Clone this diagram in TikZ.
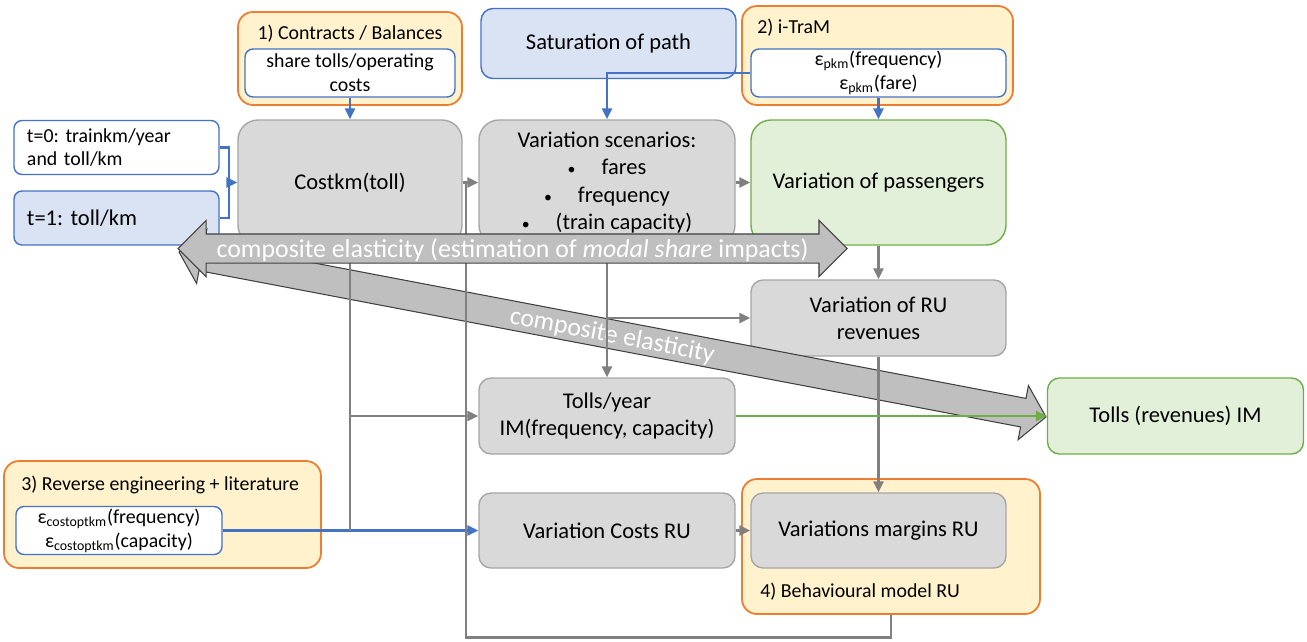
\documentclass[tikz,border=0pt]{standalone}
\usepackage{fontspec}
\setmainfont{Carlito}
\usepackage{tikz}
\usetikzlibrary{shapes.arrows, positioning, arrows.meta}
\usepackage{xcolor}
\definecolor{OfficeOrange}{HTML}{ED7D31}
\definecolor{OfficeCream}{HTML}{FFF2CC}
\definecolor{OfficeBlue}{HTML}{4472C4}
\definecolor{OfficeBlueFill}{HTML}{DAE3F3}
\definecolor{OfficeGreen}{HTML}{70AD47}
\definecolor{OfficeGreenFill}{HTML}{E2F0D9}
\definecolor{OfficeGray}{HTML}{A6A6A6}
\definecolor{OfficeGrayFill}{HTML}{D9D9D9}
\definecolor{LinkGray}{HTML}{808080}
\definecolor{ArrowFill}{HTML}{BFBFBF}
\newcommand{\txtmain}{\fontsize{12.8}{15.4}\selectfont}
\newcommand{\txtsmall}{\fontsize{11.3}{13.6}\selectfont}
\newcommand{\txtbig}{\fontsize{14.7}{17}\selectfont}
\newcommand{\bul}{{\fontsize{9}{9}\selectfont\textbullet}\hspace{5.2mm}}
\frenchspacing

\begin{document}
\begin{tikzpicture}[
            x=0.2mm, y=-0.2mm,
            box/.style={draw=OfficeGray, fill=OfficeGrayFill, line width=0.8pt, rounded corners=2.4mm, align=center, font=\txtmain, inner sep=0pt, minimum width=51mm, minimum height=15.2mm},
            tall/.style={rounded corners=4mm, minimum height=25mm},
            greenbox/.style={box, draw=OfficeGreen, fill=OfficeGreenFill},
            bluebox/.style={box, draw=OfficeBlue, fill=OfficeBlueFill},
            inbox/.style={draw=OfficeBlue, fill=white, line width=0.8pt, rounded corners=1.6mm, align=center, font=\txtsmall, inner sep=0pt, minimum height=9.6mm},
            inputbox/.style={draw=OfficeBlue, line width=0.8pt, rounded corners=1.6mm, align=left, inner xsep=2.6mm, inner ysep=0pt, text width=35.8mm, minimum height=10.8mm},
            group/.style={draw=OfficeOrange, fill=OfficeCream, line width=1pt, rounded corners=3mm, inner sep=0pt},
            grouptitle/.style={font=\txtsmall, inner sep=0pt},
            arrow/.style={-{Triangle[length=2.2mm, width=2mm]}, line width=1.6pt, LinkGray},
            link/.style={line width=1.6pt, LinkGray},
            bluearrow/.style={-{Triangle[length=2.2mm, width=2mm]}, line width=1.6pt, OfficeBlue},
            bluelink/.style={line width=1.6pt, OfficeBlue},
            greenarrow/.style={-{Triangle[length=2.2mm, width=2mm]}, line width=1.6pt, OfficeGreen},
            bigarrow/.style={double arrow, draw=black!75, line width=0.6pt, fill=ArrowFill, text=white, font=\txtbig, inner xsep=0pt, inner ysep=0pt, text height=4.5mm, text depth=1.1mm, double arrow head extend=2.7mm, double arrow tip angle=90}
        ]
            \useasboundingbox (0,0) rectangle (1307,641);

            \node[group, minimum width=44.8mm, minimum height=18.6mm] (contracts) at (350,58.5) {};
            \node[grouptitle] (contractstitle) at (350,34) {1) Contracts / Balances};
            \node[inbox, minimum width=42mm] (contractsin) at (350,73) {share tolls/operating\\costs};

            \node[bluebox, minimum height=14mm] (saturation) at (608.5,43.5) {Saturation of path};

            \node[group, minimum width=54.2mm, minimum height=19.8mm] (itram) at (877.5,55.5) {};
            \node[grouptitle, anchor=west] (itramtitle) at (757,28) {2) i-TraM};
            \node[inbox, minimum width=51mm] (itramin) at (878.5,73) {ε\textsubscript{pkm}(frequency)\\ε\textsubscript{pkm}(fare)};

            \node[inputbox, fill=white, font=\txtsmall] (t0) at (116.5,147.5) {t=0: trainkm/year\\and toll/km};
            \node[inputbox, fill=OfficeBlueFill, font=\txtmain] (t1) at (116.5,218) {t=1: toll/km};

            \node[box, tall, minimum width=44.8mm] (costkm) at (350,182.5) {Costkm(toll)};
            \node[box, tall, minimum width=51.2mm] (scen) at (607,182.5) {Variation scenarios:\\\bul fares\\\bul frequency\\\bul (train capacity)};
            \node[greenbox, tall] (pass) at (878.5,182.5) {Variation of passengers};

            \node[box] (rurev) at (878.5,318) {Variation of RU\\revenues};
            \node[box, minimum width=51.2mm] (tollyear) at (607,416) {Tolls/year\\IM(frequency, capacity)};
            \node[greenbox, minimum width=51.2mm] (tollim) at (1175.5,416) {Tolls (revenues) IM};

            \node[group, minimum width=63.4mm, minimum height=21.4mm] (reverse) at (162.5,514.5) {};
            \node[grouptitle, anchor=west] (reversetitle) at (21,485) {3) Reverse engineering + literature};
            \node[inbox, minimum width=41.2mm] (revin) at (119,530.5) {ε\textsubscript{costoptkm}(frequency)\\ε\textsubscript{costoptkm}(capacity)};

            \node[box, minimum width=51.2mm, minimum height=15mm] (costru) at (607,530.5) {Variation Costs RU};

            \node[group, minimum width=59.6mm, minimum height=27mm] (behav) at (891,546.5) {};
            \node[box, minimum height=15mm] (margins) at (878.5,530.5) {Variations margins RU};
            \node[grouptitle, anchor=west] (behavtitle) at (760,592) {4) Behavioural model RU};

            \node[bigarrow, double arrow tip angle=100, double arrow head extend=2.6mm, minimum height=176.5mm, rotate=-10.77] (elastdiag) at (612.5,334.5) {composite elasticity};

            \coordinate (tjoin) at (229,182.5);
            \coordinate (loop) at (466,182.5);

            \draw[bluearrow] (contractsin.south) -- (costkm.north);
            \draw[bluelink] (t0.east) -| (tjoin);
            \draw[bluelink] (t1.east) -| (tjoin);
            \draw[bluearrow] (tjoin) -- (costkm.west);
            \draw[bluearrow] (itramin.west) -| (scen.north);
            \draw[bluearrow] (itramin.south) -- (pass.north);
            \draw[bluearrow] (revin.east) -- (costru.west);

            \draw[arrow] (costkm) -- (scen);
            \draw[arrow] (scen) -- (pass);
            \draw[arrow] (pass) -- (rurev);
            \draw[arrow] (rurev) -- (margins);
            \draw[arrow] (costru) -- (margins);
            \draw[arrow] (scen.south) -- (tollyear.north);
            \draw[arrow] (scen.south |- rurev.west) -- (rurev.west);
            \draw[link] (costkm.south) -- (costkm.south |- revin.east);
            \draw[arrow] (costkm.south |- tollyear.west) -- (tollyear.west);
            \draw[link] (behav.south) -- ++(0,23) -| (loop);
            \draw[greenarrow] (tollyear) -- (tollim);

            \node[bigarrow, minimum height=133.8mm] (elast) at (512.5,248.5) {composite elasticity (estimation of \textit{modal share} impacts)};
        \end{tikzpicture}
\end{document}
